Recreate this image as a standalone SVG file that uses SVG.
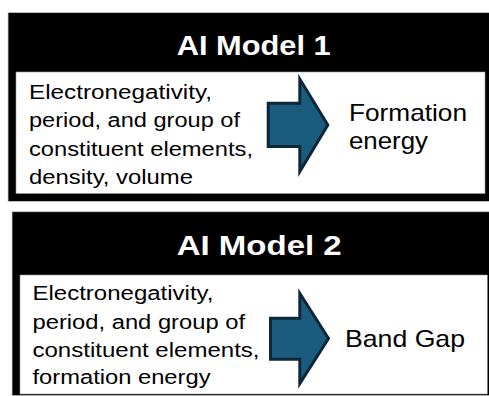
<svg xmlns="http://www.w3.org/2000/svg" width="489" height="396" viewBox="0 0 489 396">
  <style>
    .frame { fill: #000000; stroke: #cfcfcf; stroke-width: 0.8; }
    .panel { fill: #ffffff; stroke: #9a9a9a; stroke-width: 0.6; }
    .title { font-family: "Liberation Sans", Arial, sans-serif; font-weight: bold; font-size: 28px; fill: #ffffff; }
    .body { font-family: "Liberation Sans", Arial, sans-serif; font-size: 20px; fill: #000000; }
    .out { font-family: "Liberation Sans", Arial, sans-serif; font-size: 24px; fill: #000000; }
    .flow { fill: #1b5c7e; stroke: #0c2738; stroke-width: 3; stroke-linejoin: miter; }
  </style>

  <rect x="0" y="0" width="489" height="396" fill="#ffffff"/>

  <!-- Model 1: formation energy predictor -->
  <g id="model1">
    <rect class="frame" x="8" y="12.5" width="486" height="189"/>
    <rect class="panel" x="16" y="72" width="469" height="121.5"/>
    <text class="title" x="176.7" y="55" textLength="154" lengthAdjust="spacingAndGlyphs">AI Model 1</text>
    <text class="body" x="29" y="99" textLength="183" lengthAdjust="spacingAndGlyphs">Electronegativity,</text>
    <text class="body" x="29" y="127" textLength="211" lengthAdjust="spacingAndGlyphs">period, and group of</text>
    <text class="body" x="29" y="155.5" textLength="224" lengthAdjust="spacingAndGlyphs">constituent elements,</text>
    <text class="body" x="29" y="183.5" textLength="164" lengthAdjust="spacingAndGlyphs">density, volume</text>
    <text class="out" x="349" y="121" textLength="118" lengthAdjust="spacingAndGlyphs">Formation</text>
    <text class="out" x="349" y="149" textLength="79" lengthAdjust="spacingAndGlyphs">energy</text>
  </g>

  <!-- Model 2: band gap predictor -->
  <g id="model2">
    <rect class="frame" x="12" y="211.7" width="482" height="184"/>
    <rect class="panel" x="20" y="275" width="467.3" height="119"/>
    <text class="title" x="176.7" y="255" textLength="165" lengthAdjust="spacingAndGlyphs">AI Model 2</text>
    <text class="body" x="32.5" y="300" textLength="181" lengthAdjust="spacingAndGlyphs">Electronegativity,</text>
    <text class="body" x="32.5" y="328.5" textLength="212.5" lengthAdjust="spacingAndGlyphs">period, and group of</text>
    <text class="body" x="32.5" y="356.5" textLength="227" lengthAdjust="spacingAndGlyphs">constituent elements,</text>
    <text class="body" x="32.5" y="384" textLength="178" lengthAdjust="spacingAndGlyphs">formation energy</text>
    <text class="out" x="345" y="346.5" font-size="25" textLength="120" lengthAdjust="spacingAndGlyphs">Band Gap</text>
  </g>

  <!-- Input-to-output block arrows -->
  <g id="connectors">
    <polygon class="flow" points="268.2,103.2 299.8,103.2 299.8,79 327.8,125 299.8,171.5 299.8,146.5 268.2,146.5"/>
    <polygon class="flow" points="270.5,318.2 299.8,318.2 299.8,293.5 328.5,338.5 299.8,383.5 299.8,359.2 270.5,359.2"/>
  </g>
</svg>
